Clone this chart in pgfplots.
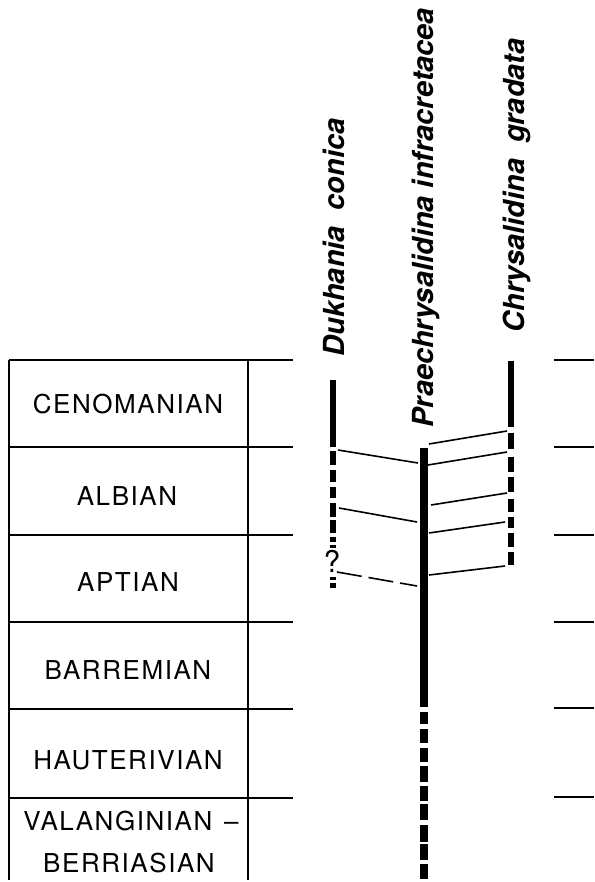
\documentclass[border=0pt]{standalone}
\usepackage{pgfplots}
\pgfplotsset{compat=1.18}
\usepackage{fontspec}
\setmainfont{TeX Gyre Heros}
\newfontfamily\tablefont[LetterSpace=6]{TeX Gyre Heros}
\begin{document}
\begin{tikzpicture}
\begin{axis}[
  width=297pt, height=441pt, scale only axis,
  xmin=0, xmax=594, ymin=0, ymax=882, y dir=reverse,
  hide axis, clip=false, unbounded coords=jump,
  every axis plot/.append style={line cap=butt},
]
% stage table: horizontal lines
\addplot[black, line width=0.55pt] coordinates {
 (9,360)(293,360) (nan,nan) (9,447)(293,447) (nan,nan) (9,535)(293,535) (nan,nan)
 (9,622)(293,622) (nan,nan) (9,709)(293,709) (nan,nan) (9,798)(293,798)};
% stage table: vertical lines
\addplot[black, line width=0.55pt] coordinates {(9,360)(9,880) (nan,nan) (248,360)(248,880)};
% right-hand boundary ticks
\addplot[black, line width=0.55pt] coordinates {
 (554,360)(594,360) (nan,nan) (554,447)(594,447) (nan,nan) (554,535)(594,535) (nan,nan)
 (554,622)(594,622) (nan,nan) (554,708)(594,708) (nan,nan) (554,797)(594,797)};

% Dukhania conica range
\addplot[black, line width=3pt] coordinates {
 (333,380)(333,447) (nan,nan) (333,451)(333,465) (nan,nan) (333,470)(333,482) (nan,nan)
 (333,487)(333,498) (nan,nan) (333,503)(333,517) (nan,nan) (333,520)(333,533) (nan,nan)
 (333,537)(333,542) (nan,nan) (333,545)(333,548) (nan,nan) (333,577)(333,580) (nan,nan)
 (333,583)(333,588)};
% Praechrysalidina infracretacea range
\addplot[black, line width=4pt] coordinates {
 (424,448)(424,707) (nan,nan) (424,712)(424,724) (nan,nan) (424,729)(424,743) (nan,nan)
 (424,748)(424,762) (nan,nan) (424,766)(424,782) (nan,nan) (424,786)(424,801) (nan,nan)
 (424,804)(424,820) (nan,nan) (424,825)(424,842) (nan,nan) (424,844)(424,860) (nan,nan)
 (424,864)(424,879)};
% Chrysalidina gradata range
\addplot[black, line width=3.4pt] coordinates {
 (511,361)(511,427) (nan,nan) (511,433)(511,449) (nan,nan) (511,457)(511,472) (nan,nan)
 (511,477)(511,492) (nan,nan) (511,499)(511,512) (nan,nan) (511,517)(511,528) (nan,nan)
 (511,533)(511,547) (nan,nan) (511,552)(511,565)};

% correlation lines
\addplot[black, line width=0.8pt] coordinates {
 (338,450)(418,463) (nan,nan) (339,508)(417,522)};
\addplot[black, line width=0.8pt, dash pattern=on 12.5pt off 3.5pt] coordinates {(337,572)(417,586)};
\addplot[black, line width=0.8pt] coordinates {
 (429,444)(507,431) (nan,nan) (428,465)(507,452) (nan,nan) (431,505)(507,493) (nan,nan)
 (429,533)(505,522) (nan,nan) (429,575)(505,566)};

% query mark
\node[font=\fontsize{15}{15}\selectfont, inner sep=0pt] at (axis cs:332,561) {?};

% stage names
\begin{scope}[every node/.style={font=\tablefont\fontsize{13}{15}\selectfont, inner sep=0pt, anchor=center}]
\node at (axis cs:128,404) {CENOMANIAN};
\node at (axis cs:127,496) {ALBIAN};
\node at (axis cs:128,582) {APTIAN};
\node at (axis cs:128,670) {BARREMIAN};
\node at (axis cs:128,760) {HAUTERIVIAN};
\node at (axis cs:131,821) {VALANGINIAN\hspace{0.45em}–};
\node at (axis cs:129,863) {BERRIASIAN};
\end{scope}

% taxon names
\begin{scope}[every node/.style={font=\fontsize{14.5}{16}\selectfont\bfseries\itshape, inner sep=0pt, rotate=90, anchor=base west}]
\node at (axis cs:344,357) {Dukhania\hspace{0.55em}conica};
\node at (axis cs:433,428) {Praechrysalidina infracretacea};
\node at (axis cs:524,333) {Chrysalidina\hspace{0.55em}gradata};
\end{scope}
\end{axis}
\pgfresetboundingbox
\useasboundingbox (current axis.south west) rectangle (current axis.north east);
\end{tikzpicture}
\end{document}
